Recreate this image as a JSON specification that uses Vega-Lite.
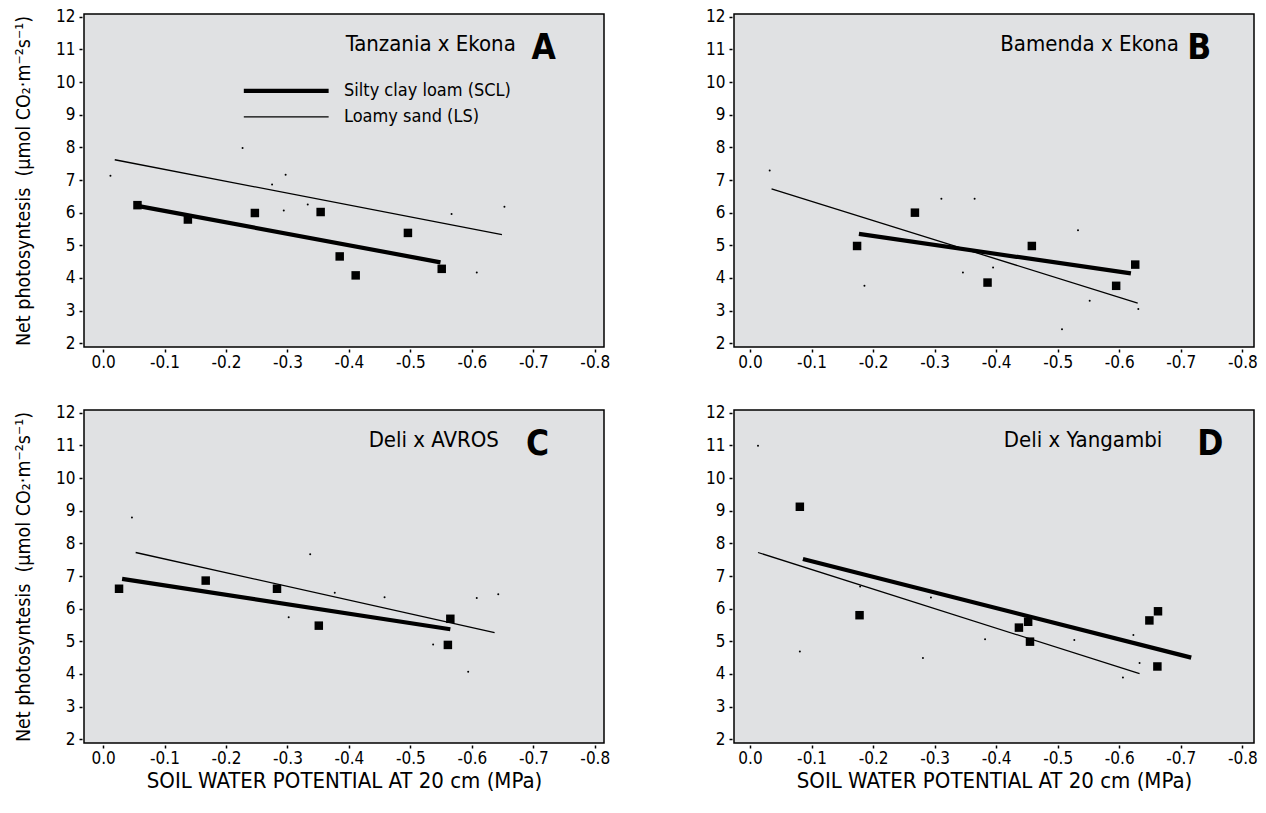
{
  "$schema": "https://vega.github.io/schema/vega-lite/v6.json",
  "background": "white",
  "padding": {"left": 12, "top": 6, "right": 5, "bottom": 5},
  "config": {
    "font": "Liberation Sans Narrow, DejaVu Sans Condensed, sans-serif",
    "view": {"fill": "#e0e1e3", "stroke": "black", "strokeWidth": 1.5},
    "axis": {
      "grid": false, "domain": false, "tickColor": "black", "tickSize": 3, "tickWidth": 1.5,
      "offset": 2, "labelFontSize": 17, "labelColor": "black", "labelPadding": 4,
      "labelFlush": false, "labelOverlap": false, "labelBound": false,
      "titleFontSize": 19.5, "titleColor": "black", "titleFontWeight": "normal"
    },
    "axisX": {"labelPadding": 2, "titlePadding": 4, "titleFontSize": 22},
    "axisY": {"titlePadding": 22}
  },
  "datasets": {
    "points": [
      {"panel": "A", "soil": "SCL", "psi": -0.056, "pn": 6.23},
      {"panel": "A", "soil": "SCL", "psi": -0.138, "pn": 5.79},
      {"panel": "A", "soil": "SCL", "psi": -0.247, "pn": 5.99},
      {"panel": "A", "soil": "SCL", "psi": -0.354, "pn": 6.02},
      {"panel": "A", "soil": "SCL", "psi": -0.496, "pn": 5.38},
      {"panel": "A", "soil": "SCL", "psi": -0.385, "pn": 4.66},
      {"panel": "A", "soil": "SCL", "psi": -0.411, "pn": 4.08},
      {"panel": "A", "soil": "SCL", "psi": -0.551, "pn": 4.28},
      {"panel": "A", "soil": "LS", "psi": -0.012, "pn": 7.13},
      {"panel": "A", "soil": "LS", "psi": -0.227, "pn": 7.98},
      {"panel": "A", "soil": "LS", "psi": -0.297, "pn": 7.16},
      {"panel": "A", "soil": "LS", "psi": -0.275, "pn": 6.86},
      {"panel": "A", "soil": "LS", "psi": -0.294, "pn": 6.07},
      {"panel": "A", "soil": "LS", "psi": -0.333, "pn": 6.25},
      {"panel": "A", "soil": "LS", "psi": -0.567, "pn": 5.96},
      {"panel": "A", "soil": "LS", "psi": -0.653, "pn": 6.18},
      {"panel": "A", "soil": "LS", "psi": -0.608, "pn": 4.17},
      {"panel": "B", "soil": "SCL", "psi": -0.174, "pn": 4.98},
      {"panel": "B", "soil": "SCL", "psi": -0.268, "pn": 6.0},
      {"panel": "B", "soil": "SCL", "psi": -0.386, "pn": 3.86},
      {"panel": "B", "soil": "SCL", "psi": -0.458, "pn": 4.98},
      {"panel": "B", "soil": "SCL", "psi": -0.595, "pn": 3.76},
      {"panel": "B", "soil": "SCL", "psi": -0.626, "pn": 4.41},
      {"panel": "B", "soil": "LS", "psi": -0.032, "pn": 7.29},
      {"panel": "B", "soil": "LS", "psi": -0.186, "pn": 3.76},
      {"panel": "B", "soil": "LS", "psi": -0.311, "pn": 6.43},
      {"panel": "B", "soil": "LS", "psi": -0.365, "pn": 6.43},
      {"panel": "B", "soil": "LS", "psi": -0.346, "pn": 4.17},
      {"panel": "B", "soil": "LS", "psi": -0.395, "pn": 4.32},
      {"panel": "B", "soil": "LS", "psi": -0.533, "pn": 5.46},
      {"panel": "B", "soil": "LS", "psi": -0.552, "pn": 3.3},
      {"panel": "B", "soil": "LS", "psi": -0.507, "pn": 2.43},
      {"panel": "B", "soil": "LS", "psi": -0.631, "pn": 3.05},
      {"panel": "C", "soil": "SCL", "psi": -0.026, "pn": 6.61},
      {"panel": "C", "soil": "SCL", "psi": -0.167, "pn": 6.86},
      {"panel": "C", "soil": "SCL", "psi": -0.283, "pn": 6.61},
      {"panel": "C", "soil": "SCL", "psi": -0.351, "pn": 5.48},
      {"panel": "C", "soil": "SCL", "psi": -0.565, "pn": 5.69},
      {"panel": "C", "soil": "SCL", "psi": -0.561, "pn": 4.89},
      {"panel": "C", "soil": "LS", "psi": -0.047, "pn": 8.79},
      {"panel": "C", "soil": "LS", "psi": -0.337, "pn": 7.67},
      {"panel": "C", "soil": "LS", "psi": -0.377, "pn": 6.49},
      {"panel": "C", "soil": "LS", "psi": -0.302, "pn": 5.74},
      {"panel": "C", "soil": "LS", "psi": -0.458, "pn": 6.35},
      {"panel": "C", "soil": "LS", "psi": -0.608, "pn": 6.33},
      {"panel": "C", "soil": "LS", "psi": -0.643, "pn": 6.44},
      {"panel": "C", "soil": "LS", "psi": -0.537, "pn": 4.9},
      {"panel": "C", "soil": "LS", "psi": -0.594, "pn": 4.07},
      {"panel": "D", "soil": "SCL", "psi": -0.081, "pn": 9.12},
      {"panel": "D", "soil": "SCL", "psi": -0.178, "pn": 5.8},
      {"panel": "D", "soil": "SCL", "psi": -0.437, "pn": 5.42},
      {"panel": "D", "soil": "SCL", "psi": -0.452, "pn": 5.6},
      {"panel": "D", "soil": "SCL", "psi": -0.455, "pn": 4.99},
      {"panel": "D", "soil": "SCL", "psi": -0.649, "pn": 5.64},
      {"panel": "D", "soil": "SCL", "psi": -0.663, "pn": 5.92},
      {"panel": "D", "soil": "SCL", "psi": -0.662, "pn": 4.23},
      {"panel": "D", "soil": "LS", "psi": -0.013, "pn": 10.99},
      {"panel": "D", "soil": "LS", "psi": -0.081, "pn": 4.69},
      {"panel": "D", "soil": "LS", "psi": -0.179, "pn": 6.68},
      {"panel": "D", "soil": "LS", "psi": -0.294, "pn": 6.34},
      {"panel": "D", "soil": "LS", "psi": -0.281, "pn": 4.49},
      {"panel": "D", "soil": "LS", "psi": -0.382, "pn": 5.06},
      {"panel": "D", "soil": "LS", "psi": -0.527, "pn": 5.04},
      {"panel": "D", "soil": "LS", "psi": -0.623, "pn": 5.19},
      {"panel": "D", "soil": "LS", "psi": -0.633, "pn": 4.34},
      {"panel": "D", "soil": "LS", "psi": -0.606, "pn": 3.89}
    ],
    "fits": [
      {"panel": "A", "soil": "LS", "psi": -0.019, "pn": 7.62},
      {"panel": "A", "soil": "LS", "psi": -0.649, "pn": 5.33},
      {"panel": "A", "soil": "SCL", "psi": -0.056, "pn": 6.21},
      {"panel": "A", "soil": "SCL", "psi": -0.549, "pn": 4.48},
      {"panel": "B", "soil": "LS", "psi": -0.035, "pn": 6.73},
      {"panel": "B", "soil": "LS", "psi": -0.63, "pn": 3.23},
      {"panel": "B", "soil": "SCL", "psi": -0.177, "pn": 5.35},
      {"panel": "B", "soil": "SCL", "psi": -0.619, "pn": 4.14},
      {"panel": "C", "soil": "LS", "psi": -0.053, "pn": 7.72},
      {"panel": "C", "soil": "LS", "psi": -0.637, "pn": 5.27},
      {"panel": "C", "soil": "SCL", "psi": -0.031, "pn": 6.91},
      {"panel": "C", "soil": "SCL", "psi": -0.565, "pn": 5.37},
      {"panel": "D", "soil": "LS", "psi": -0.013, "pn": 7.72},
      {"panel": "D", "soil": "LS", "psi": -0.633, "pn": 4.01},
      {"panel": "D", "soil": "SCL", "psi": -0.086, "pn": 7.52},
      {"panel": "D", "soil": "SCL", "psi": -0.717, "pn": 4.5}
    ]
  },
  "columns": 2,
  "spacing": {"row": 63, "column": 130},
  "bounds": "flush",
  "concat": [
    {
      "width": 520, "height": 333,
      "layer": [
        {"data": {"name": "fits"}, "transform": [{"filter": "datum.panel === 'A' && datum.soil === 'LS'"}], "mark": {"type": "line", "color": "black", "strokeWidth": 1.3},
         "encoding": {
           "x": {"field": "psi", "type": "quantitative", "scale": {"domain": [-0.815, 0.031], "reverse": true, "nice": false, "zero": false},
                 "axis": {"title": null, "values": [0, -0.1, -0.2, -0.3, -0.4, -0.5, -0.6, -0.7, -0.8], "labelExpr": "datum.value == 0 ? '0.0' : '-' + format(-datum.value, '.1f')"}},
           "y": {"field": "pn", "type": "quantitative", "scale": {"domain": [1.887, 12.083], "nice": false, "zero": false},
                 "axis": {"title": "Net photosyntesis\u00a0 (µmol CO₂·m⁻²s⁻¹)", "values": [2, 3, 4, 5, 6, 7, 8, 9, 10, 11, 12], "format": "d"}}}},
        {"data": {"name": "fits"}, "transform": [{"filter": "datum.panel === 'A' && datum.soil === 'SCL'"}], "mark": {"type": "line", "color": "black", "strokeWidth": 4.2, "strokeCap": "butt"},
         "encoding": {
           "x": {"field": "psi", "type": "quantitative", "axis": {"title": null, "values": [0, -0.1, -0.2, -0.3, -0.4, -0.5, -0.6, -0.7, -0.8], "labelExpr": "datum.value == 0 ? '0.0' : '-' + format(-datum.value, '.1f')"}},
           "y": {"field": "pn", "type": "quantitative", "axis": {"title": "Net photosyntesis\u00a0 (µmol CO₂·m⁻²s⁻¹)", "values": [2, 3, 4, 5, 6, 7, 8, 9, 10, 11, 12], "format": "d"}}}},
        {"data": {"name": "points"}, "transform": [{"filter": "datum.panel === 'A' && datum.soil === 'SCL'"}], "mark": {"type": "point", "shape": "square", "filled": true, "color": "black", "opacity": 1, "size": 72},
         "encoding": {
           "x": {"field": "psi", "type": "quantitative", "axis": {"title": null, "values": [0, -0.1, -0.2, -0.3, -0.4, -0.5, -0.6, -0.7, -0.8], "labelExpr": "datum.value == 0 ? '0.0' : '-' + format(-datum.value, '.1f')"}},
           "y": {"field": "pn", "type": "quantitative", "axis": {"title": "Net photosyntesis\u00a0 (µmol CO₂·m⁻²s⁻¹)", "values": [2, 3, 4, 5, 6, 7, 8, 9, 10, 11, 12], "format": "d"}}}},
        {"data": {"name": "points"}, "transform": [{"filter": "datum.panel === 'A' && datum.soil === 'LS'"}], "mark": {"type": "point", "shape": "circle", "filled": true, "color": "black", "opacity": 1, "size": 4},
         "encoding": {
           "x": {"field": "psi", "type": "quantitative", "axis": {"title": null, "values": [0, -0.1, -0.2, -0.3, -0.4, -0.5, -0.6, -0.7, -0.8], "labelExpr": "datum.value == 0 ? '0.0' : '-' + format(-datum.value, '.1f')"}},
           "y": {"field": "pn", "type": "quantitative", "axis": {"title": "Net photosyntesis\u00a0 (µmol CO₂·m⁻²s⁻¹)", "values": [2, 3, 4, 5, 6, 7, 8, 9, 10, 11, 12], "format": "d"}}}},
        {"data": {"values": [{"cross": "Tanzania x Ekona"}]}, "mark": {"type": "text", "align": "right", "baseline": "alphabetic", "fontSize": 22, "color": "black"},
         "encoding": {
           "x": {"datum": -0.6715, "type": "quantitative", "axis": {"title": null, "values": [0, -0.1, -0.2, -0.3, -0.4, -0.5, -0.6, -0.7, -0.8], "labelExpr": "datum.value == 0 ? '0.0' : '-' + format(-datum.value, '.1f')"}},
           "y": {"datum": 10.96, "type": "quantitative", "axis": {"title": "Net photosyntesis\u00a0 (µmol CO₂·m⁻²s⁻¹)", "values": [2, 3, 4, 5, 6, 7, 8, 9, 10, 11, 12], "format": "d"}},
           "text": {"field": "cross", "type": "nominal"}}},
        {"data": {"values": [{"letter": "A"}]}, "mark": {"type": "text", "align": "center", "baseline": "alphabetic", "fontSize": 35, "fontWeight": "bold", "color": "black"},
         "encoding": {
           "x": {"datum": -0.717, "type": "quantitative", "axis": {"title": null, "values": [0, -0.1, -0.2, -0.3, -0.4, -0.5, -0.6, -0.7, -0.8], "labelExpr": "datum.value == 0 ? '0.0' : '-' + format(-datum.value, '.1f')"}},
           "y": {"datum": 10.7, "type": "quantitative", "axis": {"title": "Net photosyntesis\u00a0 (µmol CO₂·m⁻²s⁻¹)", "values": [2, 3, 4, 5, 6, 7, 8, 9, 10, 11, 12], "format": "d"}},
           "text": {"field": "letter", "type": "nominal"}}},
        {"data": {"values": [{"soil": "SCL"}]}, "mark": {"type": "rule", "color": "black", "strokeWidth": 4.2, "strokeCap": "butt"},
         "encoding": {
           "x": {"datum": -0.229, "type": "quantitative", "axis": {"title": null, "values": [0, -0.1, -0.2, -0.3, -0.4, -0.5, -0.6, -0.7, -0.8], "labelExpr": "datum.value == 0 ? '0.0' : '-' + format(-datum.value, '.1f')"}},
           "x2": {"datum": -0.367},
           "y": {"datum": 9.732, "type": "quantitative", "axis": {"title": "Net photosyntesis\u00a0 (µmol CO₂·m⁻²s⁻¹)", "values": [2, 3, 4, 5, 6, 7, 8, 9, 10, 11, 12], "format": "d"}}}},
        {"data": {"values": [{"soil": "LS"}]}, "mark": {"type": "rule", "color": "black", "strokeWidth": 1.3},
         "encoding": {
           "x": {"datum": -0.229, "type": "quantitative", "axis": {"title": null, "values": [0, -0.1, -0.2, -0.3, -0.4, -0.5, -0.6, -0.7, -0.8], "labelExpr": "datum.value == 0 ? '0.0' : '-' + format(-datum.value, '.1f')"}},
           "x2": {"datum": -0.367},
           "y": {"datum": 8.935, "type": "quantitative", "axis": {"title": "Net photosyntesis\u00a0 (µmol CO₂·m⁻²s⁻¹)", "values": [2, 3, 4, 5, 6, 7, 8, 9, 10, 11, 12], "format": "d"}}}},
        {"data": {"values": [{"label": "Silty clay loam (SCL)"}]}, "mark": {"type": "text", "align": "left", "baseline": "middle", "fontSize": 18, "color": "black"},
         "encoding": {
           "x": {"datum": -0.392, "type": "quantitative", "axis": {"title": null, "values": [0, -0.1, -0.2, -0.3, -0.4, -0.5, -0.6, -0.7, -0.8], "labelExpr": "datum.value == 0 ? '0.0' : '-' + format(-datum.value, '.1f')"}},
           "y": {"datum": 9.732, "type": "quantitative", "axis": {"title": "Net photosyntesis\u00a0 (µmol CO₂·m⁻²s⁻¹)", "values": [2, 3, 4, 5, 6, 7, 8, 9, 10, 11, 12], "format": "d"}},
           "text": {"field": "label", "type": "nominal"}}},
        {"data": {"values": [{"label": "Loamy sand (LS)"}]}, "mark": {"type": "text", "align": "left", "baseline": "middle", "fontSize": 18, "color": "black"},
         "encoding": {
           "x": {"datum": -0.392, "type": "quantitative", "axis": {"title": null, "values": [0, -0.1, -0.2, -0.3, -0.4, -0.5, -0.6, -0.7, -0.8], "labelExpr": "datum.value == 0 ? '0.0' : '-' + format(-datum.value, '.1f')"}},
           "y": {"datum": 8.935, "type": "quantitative", "axis": {"title": "Net photosyntesis\u00a0 (µmol CO₂·m⁻²s⁻¹)", "values": [2, 3, 4, 5, 6, 7, 8, 9, 10, 11, 12], "format": "d"}},
           "text": {"field": "label", "type": "nominal"}}}
      ]
    },
    {
      "width": 520, "height": 333,
      "layer": [
        {"data": {"name": "fits"}, "transform": [{"filter": "datum.panel === 'B' && datum.soil === 'LS'"}], "mark": {"type": "line", "color": "black", "strokeWidth": 1.3},
         "encoding": {
           "x": {"field": "psi", "type": "quantitative", "scale": {"domain": [-0.819, 0.026], "reverse": true, "nice": false, "zero": false},
                 "axis": {"title": null, "values": [0, -0.1, -0.2, -0.3, -0.4, -0.5, -0.6, -0.7, -0.8], "labelExpr": "datum.value == 0 ? '0.0' : '-' + format(-datum.value, '.1f')"}},
           "y": {"field": "pn", "type": "quantitative", "scale": {"domain": [1.887, 12.083], "nice": false, "zero": false},
                 "axis": {"title": null, "values": [2, 3, 4, 5, 6, 7, 8, 9, 10, 11, 12], "format": "d"}}}},
        {"data": {"name": "fits"}, "transform": [{"filter": "datum.panel === 'B' && datum.soil === 'SCL'"}], "mark": {"type": "line", "color": "black", "strokeWidth": 4.2, "strokeCap": "butt"},
         "encoding": {
           "x": {"field": "psi", "type": "quantitative", "axis": {"title": null, "values": [0, -0.1, -0.2, -0.3, -0.4, -0.5, -0.6, -0.7, -0.8], "labelExpr": "datum.value == 0 ? '0.0' : '-' + format(-datum.value, '.1f')"}},
           "y": {"field": "pn", "type": "quantitative", "axis": {"title": null, "values": [2, 3, 4, 5, 6, 7, 8, 9, 10, 11, 12], "format": "d"}}}},
        {"data": {"name": "points"}, "transform": [{"filter": "datum.panel === 'B' && datum.soil === 'SCL'"}], "mark": {"type": "point", "shape": "square", "filled": true, "color": "black", "opacity": 1, "size": 72},
         "encoding": {
           "x": {"field": "psi", "type": "quantitative", "axis": {"title": null, "values": [0, -0.1, -0.2, -0.3, -0.4, -0.5, -0.6, -0.7, -0.8], "labelExpr": "datum.value == 0 ? '0.0' : '-' + format(-datum.value, '.1f')"}},
           "y": {"field": "pn", "type": "quantitative", "axis": {"title": null, "values": [2, 3, 4, 5, 6, 7, 8, 9, 10, 11, 12], "format": "d"}}}},
        {"data": {"name": "points"}, "transform": [{"filter": "datum.panel === 'B' && datum.soil === 'LS'"}], "mark": {"type": "point", "shape": "circle", "filled": true, "color": "black", "opacity": 1, "size": 4},
         "encoding": {
           "x": {"field": "psi", "type": "quantitative", "axis": {"title": null, "values": [0, -0.1, -0.2, -0.3, -0.4, -0.5, -0.6, -0.7, -0.8], "labelExpr": "datum.value == 0 ? '0.0' : '-' + format(-datum.value, '.1f')"}},
           "y": {"field": "pn", "type": "quantitative", "axis": {"title": null, "values": [2, 3, 4, 5, 6, 7, 8, 9, 10, 11, 12], "format": "d"}}}},
        {"data": {"values": [{"cross": "Bamenda x Ekona"}]}, "mark": {"type": "text", "align": "right", "baseline": "alphabetic", "fontSize": 22, "color": "black"},
         "encoding": {
           "x": {"datum": -0.697, "type": "quantitative", "axis": {"title": null, "values": [0, -0.1, -0.2, -0.3, -0.4, -0.5, -0.6, -0.7, -0.8], "labelExpr": "datum.value == 0 ? '0.0' : '-' + format(-datum.value, '.1f')"}},
           "y": {"datum": 10.96, "type": "quantitative", "axis": {"title": null, "values": [2, 3, 4, 5, 6, 7, 8, 9, 10, 11, 12], "format": "d"}},
           "text": {"field": "cross", "type": "nominal"}}},
        {"data": {"values": [{"letter": "B"}]}, "mark": {"type": "text", "align": "center", "baseline": "alphabetic", "fontSize": 35, "fontWeight": "bold", "color": "black"},
         "encoding": {
           "x": {"datum": -0.73, "type": "quantitative", "axis": {"title": null, "values": [0, -0.1, -0.2, -0.3, -0.4, -0.5, -0.6, -0.7, -0.8], "labelExpr": "datum.value == 0 ? '0.0' : '-' + format(-datum.value, '.1f')"}},
           "y": {"datum": 10.7, "type": "quantitative", "axis": {"title": null, "values": [2, 3, 4, 5, 6, 7, 8, 9, 10, 11, 12], "format": "d"}},
           "text": {"field": "letter", "type": "nominal"}}}
      ]
    },
    {
      "width": 520, "height": 333,
      "layer": [
        {"data": {"name": "fits"}, "transform": [{"filter": "datum.panel === 'C' && datum.soil === 'LS'"}], "mark": {"type": "line", "color": "black", "strokeWidth": 1.3},
         "encoding": {
           "x": {"field": "psi", "type": "quantitative", "scale": {"domain": [-0.815, 0.031], "reverse": true, "nice": false, "zero": false},
                 "axis": {"title": "SOIL WATER POTENTIAL AT 20 cm (MPa)", "values": [0, -0.1, -0.2, -0.3, -0.4, -0.5, -0.6, -0.7, -0.8], "labelExpr": "datum.value == 0 ? '0.0' : '-' + format(-datum.value, '.1f')"}},
           "y": {"field": "pn", "type": "quantitative", "scale": {"domain": [1.887, 12.083], "nice": false, "zero": false},
                 "axis": {"title": "Net photosyntesis\u00a0 (µmol CO₂·m⁻²s⁻¹)", "values": [2, 3, 4, 5, 6, 7, 8, 9, 10, 11, 12], "format": "d"}}}},
        {"data": {"name": "fits"}, "transform": [{"filter": "datum.panel === 'C' && datum.soil === 'SCL'"}], "mark": {"type": "line", "color": "black", "strokeWidth": 4.2, "strokeCap": "butt"},
         "encoding": {
           "x": {"field": "psi", "type": "quantitative", "axis": {"title": "SOIL WATER POTENTIAL AT 20 cm (MPa)", "values": [0, -0.1, -0.2, -0.3, -0.4, -0.5, -0.6, -0.7, -0.8], "labelExpr": "datum.value == 0 ? '0.0' : '-' + format(-datum.value, '.1f')"}},
           "y": {"field": "pn", "type": "quantitative", "axis": {"title": "Net photosyntesis\u00a0 (µmol CO₂·m⁻²s⁻¹)", "values": [2, 3, 4, 5, 6, 7, 8, 9, 10, 11, 12], "format": "d"}}}},
        {"data": {"name": "points"}, "transform": [{"filter": "datum.panel === 'C' && datum.soil === 'SCL'"}], "mark": {"type": "point", "shape": "square", "filled": true, "color": "black", "opacity": 1, "size": 72},
         "encoding": {
           "x": {"field": "psi", "type": "quantitative", "axis": {"title": "SOIL WATER POTENTIAL AT 20 cm (MPa)", "values": [0, -0.1, -0.2, -0.3, -0.4, -0.5, -0.6, -0.7, -0.8], "labelExpr": "datum.value == 0 ? '0.0' : '-' + format(-datum.value, '.1f')"}},
           "y": {"field": "pn", "type": "quantitative", "axis": {"title": "Net photosyntesis\u00a0 (µmol CO₂·m⁻²s⁻¹)", "values": [2, 3, 4, 5, 6, 7, 8, 9, 10, 11, 12], "format": "d"}}}},
        {"data": {"name": "points"}, "transform": [{"filter": "datum.panel === 'C' && datum.soil === 'LS'"}], "mark": {"type": "point", "shape": "circle", "filled": true, "color": "black", "opacity": 1, "size": 4},
         "encoding": {
           "x": {"field": "psi", "type": "quantitative", "axis": {"title": "SOIL WATER POTENTIAL AT 20 cm (MPa)", "values": [0, -0.1, -0.2, -0.3, -0.4, -0.5, -0.6, -0.7, -0.8], "labelExpr": "datum.value == 0 ? '0.0' : '-' + format(-datum.value, '.1f')"}},
           "y": {"field": "pn", "type": "quantitative", "axis": {"title": "Net photosyntesis\u00a0 (µmol CO₂·m⁻²s⁻¹)", "values": [2, 3, 4, 5, 6, 7, 8, 9, 10, 11, 12], "format": "d"}}}},
        {"data": {"values": [{"cross": "Deli x AVROS"}]}, "mark": {"type": "text", "align": "right", "baseline": "alphabetic", "fontSize": 22, "color": "black"},
         "encoding": {
           "x": {"datum": -0.644, "type": "quantitative", "axis": {"title": "SOIL WATER POTENTIAL AT 20 cm (MPa)", "values": [0, -0.1, -0.2, -0.3, -0.4, -0.5, -0.6, -0.7, -0.8], "labelExpr": "datum.value == 0 ? '0.0' : '-' + format(-datum.value, '.1f')"}},
           "y": {"datum": 10.96, "type": "quantitative", "axis": {"title": "Net photosyntesis\u00a0 (µmol CO₂·m⁻²s⁻¹)", "values": [2, 3, 4, 5, 6, 7, 8, 9, 10, 11, 12], "format": "d"}},
           "text": {"field": "cross", "type": "nominal"}}},
        {"data": {"values": [{"letter": "C"}]}, "mark": {"type": "text", "align": "center", "baseline": "alphabetic", "fontSize": 35, "fontWeight": "bold", "color": "black"},
         "encoding": {
           "x": {"datum": -0.707, "type": "quantitative", "axis": {"title": "SOIL WATER POTENTIAL AT 20 cm (MPa)", "values": [0, -0.1, -0.2, -0.3, -0.4, -0.5, -0.6, -0.7, -0.8], "labelExpr": "datum.value == 0 ? '0.0' : '-' + format(-datum.value, '.1f')"}},
           "y": {"datum": 10.7, "type": "quantitative", "axis": {"title": "Net photosyntesis\u00a0 (µmol CO₂·m⁻²s⁻¹)", "values": [2, 3, 4, 5, 6, 7, 8, 9, 10, 11, 12], "format": "d"}},
           "text": {"field": "letter", "type": "nominal"}}}
      ]
    },
    {
      "width": 520, "height": 333,
      "layer": [
        {"data": {"name": "fits"}, "transform": [{"filter": "datum.panel === 'D' && datum.soil === 'LS'"}], "mark": {"type": "line", "color": "black", "strokeWidth": 1.3},
         "encoding": {
           "x": {"field": "psi", "type": "quantitative", "scale": {"domain": [-0.819, 0.026], "reverse": true, "nice": false, "zero": false},
                 "axis": {"title": "SOIL WATER POTENTIAL AT 20 cm (MPa)", "values": [0, -0.1, -0.2, -0.3, -0.4, -0.5, -0.6, -0.7, -0.8], "labelExpr": "datum.value == 0 ? '0.0' : '-' + format(-datum.value, '.1f')"}},
           "y": {"field": "pn", "type": "quantitative", "scale": {"domain": [1.887, 12.083], "nice": false, "zero": false},
                 "axis": {"title": null, "values": [2, 3, 4, 5, 6, 7, 8, 9, 10, 11, 12], "format": "d"}}}},
        {"data": {"name": "fits"}, "transform": [{"filter": "datum.panel === 'D' && datum.soil === 'SCL'"}], "mark": {"type": "line", "color": "black", "strokeWidth": 4.2, "strokeCap": "butt"},
         "encoding": {
           "x": {"field": "psi", "type": "quantitative", "axis": {"title": "SOIL WATER POTENTIAL AT 20 cm (MPa)", "values": [0, -0.1, -0.2, -0.3, -0.4, -0.5, -0.6, -0.7, -0.8], "labelExpr": "datum.value == 0 ? '0.0' : '-' + format(-datum.value, '.1f')"}},
           "y": {"field": "pn", "type": "quantitative", "axis": {"title": null, "values": [2, 3, 4, 5, 6, 7, 8, 9, 10, 11, 12], "format": "d"}}}},
        {"data": {"name": "points"}, "transform": [{"filter": "datum.panel === 'D' && datum.soil === 'SCL'"}], "mark": {"type": "point", "shape": "square", "filled": true, "color": "black", "opacity": 1, "size": 72},
         "encoding": {
           "x": {"field": "psi", "type": "quantitative", "axis": {"title": "SOIL WATER POTENTIAL AT 20 cm (MPa)", "values": [0, -0.1, -0.2, -0.3, -0.4, -0.5, -0.6, -0.7, -0.8], "labelExpr": "datum.value == 0 ? '0.0' : '-' + format(-datum.value, '.1f')"}},
           "y": {"field": "pn", "type": "quantitative", "axis": {"title": null, "values": [2, 3, 4, 5, 6, 7, 8, 9, 10, 11, 12], "format": "d"}}}},
        {"data": {"name": "points"}, "transform": [{"filter": "datum.panel === 'D' && datum.soil === 'LS'"}], "mark": {"type": "point", "shape": "circle", "filled": true, "color": "black", "opacity": 1, "size": 4},
         "encoding": {
           "x": {"field": "psi", "type": "quantitative", "axis": {"title": "SOIL WATER POTENTIAL AT 20 cm (MPa)", "values": [0, -0.1, -0.2, -0.3, -0.4, -0.5, -0.6, -0.7, -0.8], "labelExpr": "datum.value == 0 ? '0.0' : '-' + format(-datum.value, '.1f')"}},
           "y": {"field": "pn", "type": "quantitative", "axis": {"title": null, "values": [2, 3, 4, 5, 6, 7, 8, 9, 10, 11, 12], "format": "d"}}}},
        {"data": {"values": [{"cross": "Deli x Yangambi"}]}, "mark": {"type": "text", "align": "right", "baseline": "alphabetic", "fontSize": 22, "color": "black"},
         "encoding": {
           "x": {"datum": -0.67, "type": "quantitative", "axis": {"title": "SOIL WATER POTENTIAL AT 20 cm (MPa)", "values": [0, -0.1, -0.2, -0.3, -0.4, -0.5, -0.6, -0.7, -0.8], "labelExpr": "datum.value == 0 ? '0.0' : '-' + format(-datum.value, '.1f')"}},
           "y": {"datum": 10.96, "type": "quantitative", "axis": {"title": null, "values": [2, 3, 4, 5, 6, 7, 8, 9, 10, 11, 12], "format": "d"}},
           "text": {"field": "cross", "type": "nominal"}}},
        {"data": {"values": [{"letter": "D"}]}, "mark": {"type": "text", "align": "center", "baseline": "alphabetic", "fontSize": 35, "fontWeight": "bold", "color": "black"},
         "encoding": {
           "x": {"datum": -0.748, "type": "quantitative", "axis": {"title": "SOIL WATER POTENTIAL AT 20 cm (MPa)", "values": [0, -0.1, -0.2, -0.3, -0.4, -0.5, -0.6, -0.7, -0.8], "labelExpr": "datum.value == 0 ? '0.0' : '-' + format(-datum.value, '.1f')"}},
           "y": {"datum": 10.7, "type": "quantitative", "axis": {"title": null, "values": [2, 3, 4, 5, 6, 7, 8, 9, 10, 11, 12], "format": "d"}},
           "text": {"field": "letter", "type": "nominal"}}}
      ]
    }
  ]
}
